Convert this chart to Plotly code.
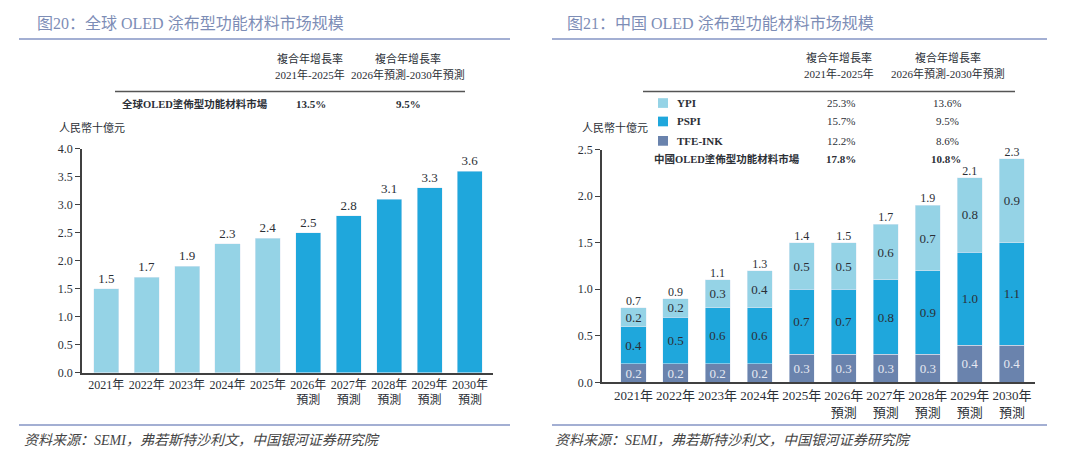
import numpy as np
import plotly.graph_objects as go

W, H = 1080, 468

# ---- data ----
years = ["2021年", "2022年", "2023年", "2024年", "2025年",
         "2026年<br>預測", "2027年<br>預測", "2028年<br>預測", "2029年<br>預測", "2030年<br>預測"]
n_actual = 5

global_market = [1.5, 1.7, 1.9, 2.3, 2.4, 2.5, 2.8, 3.1, 3.3, 3.6]

tfe_ink = [0.2, 0.2, 0.2, 0.2, 0.3, 0.3, 0.3, 0.3, 0.4, 0.4]
pspi    = [0.4, 0.5, 0.6, 0.6, 0.7, 0.7, 0.8, 0.9, 1.0, 1.1]
ypi     = [0.2, 0.2, 0.3, 0.4, 0.5, 0.5, 0.6, 0.7, 0.8, 0.9]
china_total = [0.7, 0.9, 1.1, 1.3, 1.4, 1.5, 1.7, 1.9, 2.1, 2.3]

cagr_header_1 = ["複合年增長率", "2021年-2025年"]
cagr_header_2 = ["複合年增長率", "2026年預測-2030年預測"]
global_cagr = ["13.5%", "9.5%"]
china_rows = ["YPI", "PSPI", "TFE-INK"]
china_cagr = [["25.3%", "13.6%"], ["15.7%", "9.5%"], ["12.2%", "8.6%"]]
china_market_cagr = ["17.8%", "10.8%"]

# ---- style ----
LIGHT = "#95d3e6"
BLUE = "#1fa7dc"
SLATE = "#6a83ad"
TITLE_C = "#7d8db6"
LINE_C = "#8595c4"
TXT = "#2b2f36"
SERIF = "Liberation Serif, Noto Sans CJK SC"


def px(x):
    return x / W


def py(y):
    return 1 - y / H


fig = go.Figure()

bar_colors = [LIGHT if i < n_actual else BLUE for i in range(len(years))]
fig.add_trace(go.Bar(
    x=years, y=global_market, marker_color=bar_colors, width=0.62,
    text=[f"{v:.1f}" for v in global_market], textposition="outside",
    textfont=dict(size=12.5, color=TXT, family=SERIF), cliponaxis=False,
    xaxis="x", yaxis="y", showlegend=False,
))

for vals, col, tcol in [(tfe_ink, SLATE, "#e6e9f2"), (pspi, BLUE, TXT), (ypi, LIGHT, TXT)]:
    fig.add_trace(go.Bar(
        x=years, y=vals, marker_color=col, width=0.6,
        text=[f"{v:.1f}" for v in vals], textposition="inside",
        insidetextanchor="middle", textangle=0,
        textfont=dict(size=13, color=tcol, family=SERIF),
        xaxis="x2", yaxis="y2", showlegend=False,
    ))

stack_top = np.array(tfe_ink) + np.array(pspi) + np.array(ypi)
fig.add_trace(go.Scatter(
    x=years, y=stack_top, mode="text", text=[f"{v:.1f}" for v in china_total],
    textposition="top center", textfont=dict(size=12, color=TXT, family=SERIF),
    xaxis="x2", yaxis="y2", showlegend=False, cliponaxis=False,
))

axis_common = dict(
    showline=True, linecolor="#404040", linewidth=1.5, showgrid=False, zeroline=False,
    tickfont=dict(size=12, color=TXT, family=SERIF),
)

fig.update_layout(
    width=W, height=H, margin=dict(l=0, r=0, t=0, b=0),
    paper_bgcolor="white", plot_bgcolor="white",
    barmode="stack", bargap=0.4,
    uniformtext=dict(minsize=13, mode="show"),
    xaxis=dict(domain=[px(82), px(493)], range=[-0.6, 9.57], ticks="", **axis_common),
    yaxis=dict(domain=[py(377), py(146)], range=[0, 4.0], dtick=0.5, tickformat=".1f",
               ticks="outside", ticklen=5, tickcolor="#404040", **axis_common),
    xaxis2=dict(domain=[px(602), px(1035)], range=[-0.75, 9.55], ticks="", anchor="y2",
                **{**axis_common, "tickfont": dict(size=13, color=TXT, family=SERIF)}),
    yaxis2=dict(domain=[py(387), py(147)], range=[0, 2.5], dtick=0.5, tickformat=".1f",
                anchor="x2", ticks="outside", ticklen=5, tickcolor="#404040", **axis_common),
)

ann = []
shapes = []


def text(x, y, s, size=11, anchor="center", color=TXT, bold=False, italic=False, family=SERIF):
    if bold:
        s = f"<b>{s}</b>"
    if italic:
        s = f"<i>{s}</i>"
    ann.append(dict(x=px(x), y=py(y), xref="paper", yref="paper", text=s, showarrow=False,
                    xanchor=anchor, yanchor="middle", align="center",
                    font=dict(size=size, color=color, family=family)))


def hline(x0, x1, y, color, width):
    shapes.append(dict(type="line", xref="paper", yref="paper", x0=px(x0), x1=px(x1),
                       y0=py(y), y1=py(y), line=dict(color=color, width=width)))


# left panel
text(35, 17, "图20：全球 OLED 涂布型功能材料市场规模", size=16, anchor="left", color=TITLE_C)
hline(19, 510, 33, LINE_C, 1.5)
text(310, 53, cagr_header_1[0])
text(310, 70, cagr_header_1[1])
text(408, 53, cagr_header_2[0])
text(408, 70, cagr_header_2[1])
hline(115, 465, 87, "#555555", 1.5)
text(120, 100, "全球OLED塗佈型功能材料市場", size=10.5, anchor="left", bold=True)
text(311, 100, global_cagr[0], size=11, bold=True)
text(408, 100, global_cagr[1], size=11, bold=True)
text(57, 124, "人民幣十億元", size=11, anchor="left")
hline(19, 510, 431, LINE_C, 1.5)
text(22, 447, "资料来源：SEMI，弗若斯特沙利文，中国银河证券研究院", size=14, anchor="left",
     color="#444444", italic=True)

# right panel
text(565, 17, "图21：中国 OLED 涂布型功能材料市场规模", size=16, anchor="left", color=TITLE_C)
hline(552, 1047, 33, LINE_C, 1.5)
text(839, 52, cagr_header_1[0])
text(839, 69, cagr_header_1[1])
text(948, 52, cagr_header_2[0])
text(948, 69, cagr_header_2[1])
hline(643, 1015, 87, "#555555", 1.5)
row_y = [99, 118, 138]
for name, col, yy, (c1, c2) in zip(china_rows, [LIGHT, BLUE, SLATE], row_y, china_cagr):
    shapes.append(dict(type="rect", xref="paper", yref="paper", x0=px(658), x1=px(668),
                       y0=py(yy + 5), y1=py(yy - 5), fillcolor=col, line=dict(width=0)))
    text(675, yy, name, size=11, anchor="left", bold=True)
    text(841, yy, c1, size=11)
    text(947, yy, c2, size=11)
text(652, 157, "中國OLED塗佈型功能材料市場", size=10.5, anchor="left", bold=True)
text(841, 157, china_market_cagr[0], size=11, bold=True)
text(946, 157, china_market_cagr[1], size=11, bold=True)
text(580, 124, "人民幣十億元", size=11, anchor="left")
hline(552, 1047, 431, LINE_C, 1.5)
text(553, 447, "资料来源：SEMI，弗若斯特沙利文，中国银河证券研究院", size=14, anchor="left",
     color="#444444", italic=True)

fig.update_layout(annotations=ann, shapes=shapes)

fig.write_html("out.html", config={"displayModeBar": False},
               post_script="document.body.style.margin='0';")
